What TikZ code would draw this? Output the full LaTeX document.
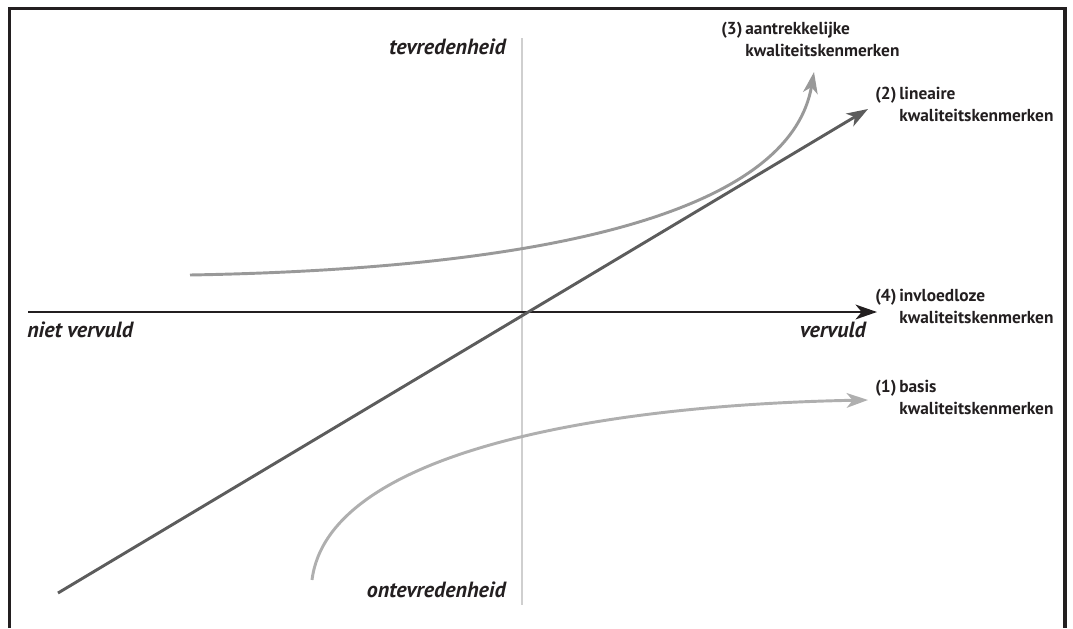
\documentclass[tikz,border=0pt]{standalone}
\usepackage{fontspec}
\setmainfont{PT Sans}
\usetikzlibrary{arrows.meta}
\definecolor{ink}{HTML}{231F20}
\definecolor{axisv}{HTML}{CFCFCF}
\definecolor{lin}{HTML}{5C5C5C}
\definecolor{attr}{HTML}{999999}
\definecolor{basis}{HTML}{AFAFAF}
\tikzset{
  axislabel/.style={font=\fontsize{16.5}{20}\selectfont\bfseries\itshape, text=ink, inner sep=0pt},
  catlabel/.style={font=\fontsize{13}{16.5}\selectfont\bfseries, text=ink, inner sep=0pt, anchor=north west, align=left},
  arr/.style={line width=2.2pt, -{Stealth[length=16pt,width=11pt,inset=4.5pt]}},
}
\newcommand{\cat}[2]{\begin{tabular}{@{}l@{\,}l@{}}#1 & #2\\ & kwaliteitskenmerken\end{tabular}}
\begin{document}
\begin{tikzpicture}[x=0.75pt,y=-0.75pt]
\useasboundingbox (0,0) rectangle (1073,628);
% frame
\draw[ink, line width=2.4pt] (9.5,628) -- (9.5,8.5) -- (1065,8.5) -- (1065,628);
% vertical axis
\coordinate (vtop) at (522,38);
\coordinate (vbot) at (522,605);
\draw[axisv, line width=2.2pt] (vtop) -- (vbot);
% horizontal axis
\coordinate (hstart) at (28,312);
\coordinate (hend) at (877,312);
\draw[arr, ink] (hstart) -- (hend);
% labels on axes
\node[axislabel, anchor=west] (nv) at (27,330) {niet vervuld};
\node[axislabel, anchor=east] (vv) at (866,330) {vervuld};
\node[axislabel, anchor=east] (tev) at (506,47) {tevredenheid};
\node[axislabel, anchor=east] (ontev) at (506,590) {ontevredenheid};
% category labels
\node[catlabel] (c3) at (721,19) {\cat{(3)}{aantrekkelijke}};
\node[catlabel] (c2) at (875,84) {\cat{(2)}{lineaire}};
\node[catlabel] (c4) at (875,286) {\cat{(4)}{invloedloze}};
\node[catlabel] (c1) at (875,377) {\cat{(1)}{basis}};
% (2) linear
\coordinate (l0) at (58,593);
\coordinate (l1) at (868,109);
\draw[arr, lin] (l0) -- (l1);
% (3) attractive
\coordinate (a0) at (190,275);
\coordinate (a1) at (814,72);
\draw[arr, attr] (a0) .. controls (590,268) and (792,200) .. (a1);
% (1) basic
\coordinate (b0) at (312,580);
\coordinate (b1) at (868,400);
\draw[arr, basis] (b0) .. controls (328,452) and (600,405) .. (b1);
\end{tikzpicture}
\end{document}
